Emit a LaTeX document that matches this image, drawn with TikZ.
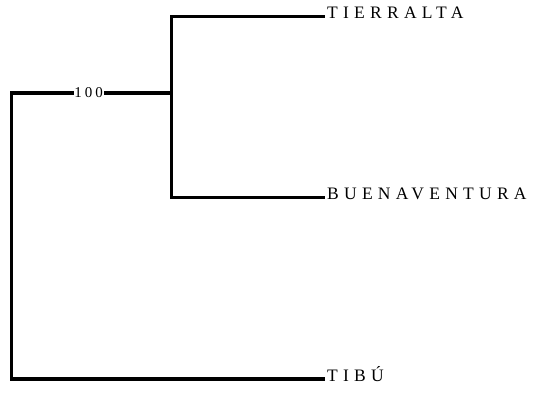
\documentclass[tikz,border=0pt]{standalone}
\usepackage{fontspec}
\setmainfont{Liberation Serif}
\newfontfamily\taxafont[LetterSpace=30]{Liberation Serif}
\newfontfamily\supportfont[LetterSpace=20]{Liberation Serif}
\usetikzlibrary{positioning}

\tikzset{
    branch/.style={line width=3.7pt, line cap=rect, line join=miter},
    taxon/.style={anchor=mid west, inner sep=0pt, font=\taxafont\fontsize{17.5}{20}\selectfont},
    support/.style={inner sep=0pt, font=\supportfont\fontsize{15}{17}\selectfont}
}

\begin{document}
\begin{tikzpicture}[x=1pt, y=-1pt]
        \useasboundingbox (0,0) rectangle (536,393);

        \coordinate (root) at (11.5,93);
        \coordinate (rootlow) at (11.5,379);
        \coordinate (clade) at (171.5,93);
        \coordinate (cladetop) at (171.5,16.5);
        \coordinate (cladelow) at (171.5,197.5);

        \node[taxon] (tierralta) at (327,16.5) {TIERRALTA};
        \node[taxon] (buenaventura) at (327,197.5) {BUENAVENTURA};
        \node[taxon] (tibu) at (327,379) {TIBÚ};
        \node[support] (boot) at (88.5,93) {100};

        \draw[branch] (boot.west) ++(-2,0) -- (root) -- (rootlow) -- ([xshift=-4pt]tibu.mid west);
        \draw[branch] (boot.east) ++(3,0) -- (clade);
        \draw[branch] (cladetop) -- (cladelow);
        \draw[branch] (cladetop) -- ([xshift=-4pt]tierralta.mid west);
        \draw[branch] (cladelow) -- ([xshift=-4pt]buenaventura.mid west);
    \end{tikzpicture}
\end{document}
